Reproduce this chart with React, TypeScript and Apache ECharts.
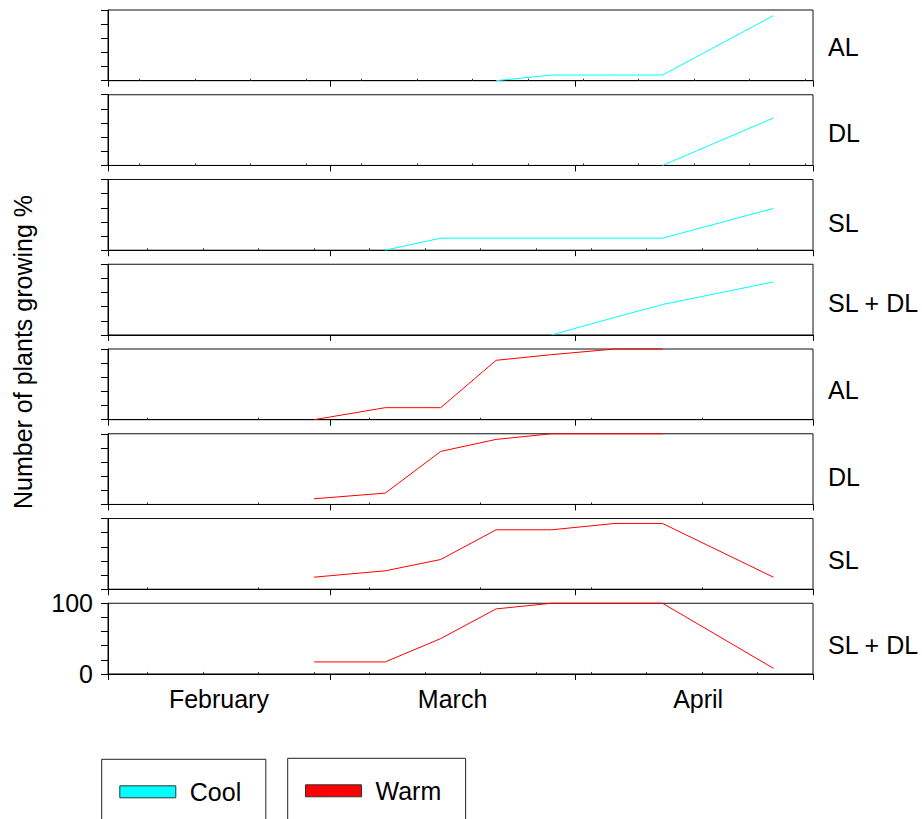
import React, { useEffect, useRef } from "react";
import * as echarts from "echarts";

// ---- data ----
// x values: days counted from 1 February (0 = Feb 1, 89 = May 1)
const sampleDays = [26, 35, 42, 49, 56, 64, 70, 84];

const coolAL = [null, null, null, 0, 8, 8, 8, 92];
const coolDL = [null, null, null, null, null, null, 0, 67];
const coolSL = [null, 0, 17, 17, 17, 17, 17, 59];
const coolSLDL = [null, null, null, null, 0, 25, 43, 75];
const warmAL = [0, 17, 17, 84, 92, 100, 100, null];
const warmDL = [8, 16, 75, 92, 100, 100, 100, null];
const warmSL = [17, 26, 42, 84, 84, 93, 93, 17];
const warmSLDL = [17, 17, 50, 92, 100, 100, 100, 8];

const panelLabels = ["AL", "DL", "SL", "SL + DL", "AL", "DL", "SL", "SL + DL"];
const panelGroups = ["Cool", "Cool", "Cool", "Cool", "Warm", "Warm", "Warm", "Warm"];
const panelValues = [coolAL, coolDL, coolSL, coolSLDL, warmAL, warmDL, warmSL, warmSLDL];

const monthStartDays = [0, 28, 59, 89];
const monthLabelDays = [14, 43.5, 74.5];
const monthLabels = ["February", "March", "April"];

const yTickLabels = [0, 100];

const weeklyFrom4 = [4, 11, 18, 25, 32, 39, 46, 53, 60, 67, 74, 81, 88];
const weeklyFrom5 = [5, 12, 19, 26, 33, 40, 47, 54, 61, 68, 75, 82];
const biweeklyFrom5 = [5, 19, 33, 47, 61, 75];
const panelMinorTicks = [weeklyFrom4, weeklyFrom4, weeklyFrom5, [], biweeklyFrom5, biweeklyFrom5, biweeklyFrom5, weeklyFrom5];

const groupColors: Record<string, string> = { Cool: "#00FFFF", Warm: "#FF0000" };

// ---- layout ----
const FONT = "'Liberation Sans', Arial, Helvetica, sans-serif";
const FS = 25;
const PANEL_TOP0 = 10;
const PANEL_STEP = 84.75;
const PANEL_H = 70.7;
const GRID_LEFT = 108;
const GRID_W = 705;
const LABEL_DY = [2, 3, 8, 3, 6, 8, 6, 6];

export default function App() {
  const ref = useRef<HTMLDivElement>(null);

  useEffect(() => {
    if (!ref.current) return;
    const chart = echarts.init(ref.current, undefined, { renderer: "svg" });
    const n = panelLabels.length;

    const grids: any[] = [];
    const xAxes: any[] = [];
    const minorAxes: any[] = [];
    const yAxes: any[] = [];
    const series: any[] = [];
    const graphics: any[] = [];

    for (let i = 0; i < n; i++) {
      const top = PANEL_TOP0 + i * PANEL_STEP;
      const isLast = i === n - 1;
      grids.push({
        left: GRID_LEFT,
        top,
        width: GRID_W,
        height: PANEL_H,
        show: true,
        borderColor: "#111",
        borderWidth: 1,
        containLabel: false,
      });
      xAxes.push({
        type: "value",
        gridIndex: i,
        min: 0,
        max: 89,
        position: "bottom",
        splitLine: { show: false },
        axisLine: { show: true, onZero: false, lineStyle: { color: "#000", width: 1 } },
        axisTick: {
          show: true,
          inside: false,
          length: 6,
          customValues: monthStartDays,
          lineStyle: { color: "#000", width: 1 },
        },
        axisLabel: {
          show: isLast,
          customValues: monthLabelDays,
          formatter: (v: number) => {
            const k = monthLabelDays.indexOf(v);
            return k >= 0 ? monthLabels[k] : "";
          },
          fontSize: FS,
          fontFamily: FONT,
          color: "#000",
          margin: 13,
        },
      });
      const minor = panelMinorTicks[i];
      minorAxes.push({
        type: "value",
        gridIndex: i,
        min: 0,
        max: 89,
        position: "bottom",
        splitLine: { show: false },
        axisLine: { show: false },
        axisLabel: { show: false },
        axisTick: {
          show: minor.length > 0,
          inside: true,
          length: 2,
          customValues: minor.length > 0 ? minor : [0],
          lineStyle: { color: "#333", width: 1 },
        },
      });
      yAxes.push({
        type: "value",
        gridIndex: i,
        min: 0,
        max: 100,
        interval: 20,
        splitLine: { show: false },
        axisLine: { show: true, lineStyle: { color: "#000", width: 1 } },
        axisTick: { show: true, inside: false, length: 7, lineStyle: { color: "#000", width: 1 } },
        axisLabel: {
          show: isLast,
          customValues: yTickLabels,
          fontSize: FS,
          fontFamily: FONT,
          color: "#000",
          margin: 15,
        },
      });
      const vals = panelValues[i];
      const data: [number, number][] = [];
      sampleDays.forEach((d, k) => {
        const v = vals[k];
        if (v !== null && v !== undefined) data.push([d, v]);
      });
      const color = groupColors[panelGroups[i]];
      series.push({
        type: "line",
        name: panelGroups[i],
        xAxisIndex: i,
        yAxisIndex: i,
        data,
        symbol: "none",
        clip: false,
        color,
        itemStyle: { color },
        lineStyle: { color, width: 1 },
      });
      graphics.push({
        type: "text",
        x: 828,
        y: top + PANEL_H / 2 + LABEL_DY[i],
        style: {
          text: panelLabels[i],
          fontSize: FS,
          fontFamily: FONT,
          fill: "#000",
          textAlign: "left",
          textVerticalAlign: "middle",
        },
      });
    }

    graphics.push({
      type: "text",
      x: 23,
      y: 352,
      rotation: Math.PI / 2,
      style: {
        text: "Number of plants growing %",
        fontSize: FS,
        fontFamily: FONT,
        fill: "#000",
        textAlign: "center",
        textVerticalAlign: "middle",
      },
    });

    const legendBase = {
      orient: "horizontal",
      icon: "rect",
      itemWidth: 56,
      itemHeight: 12,
      borderColor: "#222",
      borderWidth: 1,
      selectedMode: false,
      itemStyle: { borderColor: "#333", borderWidth: 1 },
      textStyle: { fontSize: FS, fontFamily: FONT, color: "#000", padding: [0, 0, 0, 9] },
    };

    chart.setOption({
      animation: false,
      textStyle: { fontFamily: FONT },
      grid: grids,
      xAxis: [...xAxes, ...minorAxes],
      yAxis: yAxes,
      series,
      legend: [
        { ...legendBase, data: ["Cool"], left: 101.7, top: 759.3, padding: [20, 24.6, 40, 17.6] },
        { ...legendBase, data: ["Warm"], left: 287.7, top: 758.3, padding: [20, 24.4, 40, 17.3] },
      ],
      graphic: graphics,
    });

    return () => chart.dispose();
  }, []);

  return (
    <div
      ref={ref}
      style={{ position: "absolute", left: 0, top: 0, width: 922, height: 819, background: "#fff" }}
    />
  );
}
